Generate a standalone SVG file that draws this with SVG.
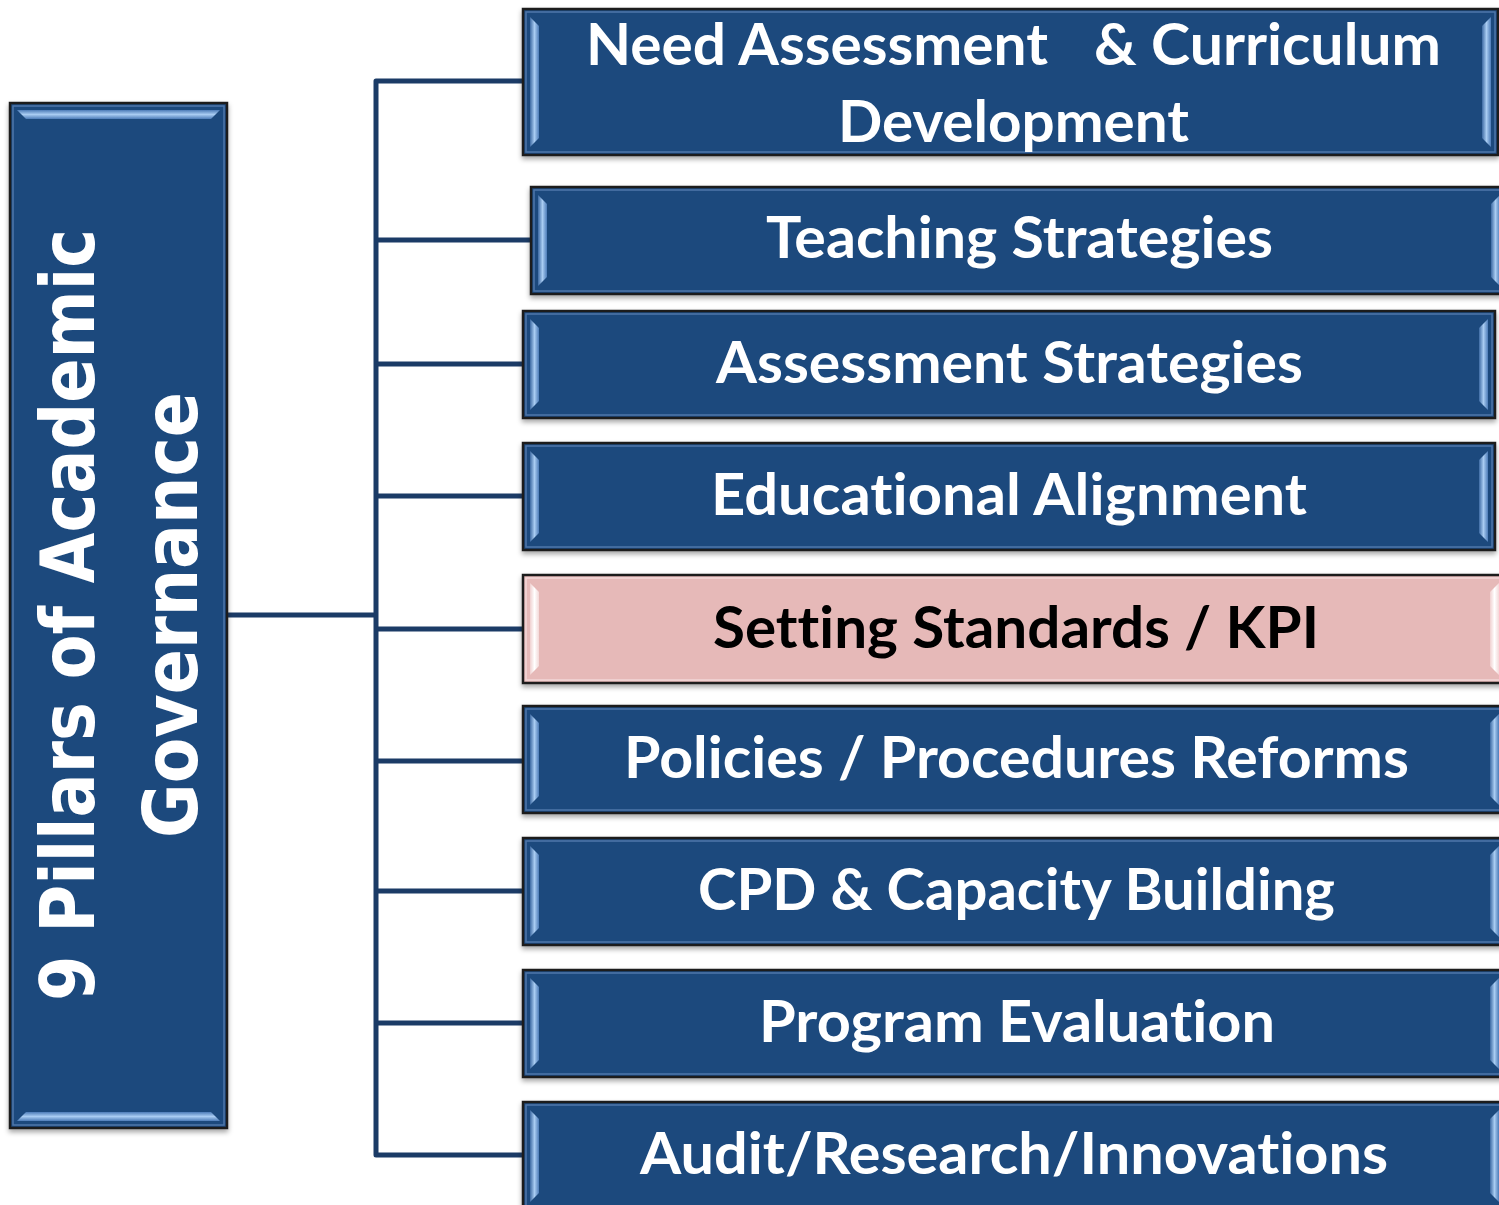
<svg xmlns="http://www.w3.org/2000/svg" width="1499" height="1205" viewBox="0 0 1499 1205">
  <style>
    .box { fill: #1F497D; stroke: #1c1c1c; stroke-width: 2.5; }
    .box.pink { fill: #E6B9B8; }
    .rim { fill: none; stroke: #5b82b5; stroke-width: 1.5; opacity: 0.8; }
    .rim.pink { stroke: #f6dede; }
    .bev { fill: url(#bevV); }
    .bev.pink { fill: url(#bevP); }
    .bevH { fill: url(#bevH); }
    .lbl { font-family: Lato, "Open Sans", "Liberation Sans", sans-serif; font-weight: 700; font-size: 57px; fill: #ffffff; font-variant-ligatures: none; font-feature-settings: "liga" 0, "clig" 0; }
    .lbl.dark { fill: #000000; }
    .title { font-family: "DejaVu Sans", Verdana, sans-serif; font-weight: 700; font-size: 74px; fill: #ffffff; }
    .conn { fill: none; stroke: #1B3B66; stroke-width: 5; stroke-linejoin: round; }
  </style>
  <defs>
    <filter id="shadow" x="-5%" y="-10%" width="110%" height="125%">
      <feDropShadow dx="0" dy="3" stdDeviation="2.5" flood-color="#000" flood-opacity="0.35"/>
    </filter>
    <linearGradient id="bevV" x1="0" y1="0" x2="1" y2="0">
      <stop offset="0" stop-color="#3d6aa3"/>
      <stop offset="0.5" stop-color="#a9ccf2"/>
      <stop offset="1" stop-color="#4d7cb8"/>
    </linearGradient>
    <linearGradient id="bevP" x1="0" y1="0" x2="1" y2="0">
      <stop offset="0" stop-color="#f0d0d0"/>
      <stop offset="0.5" stop-color="#ffffff"/>
      <stop offset="1" stop-color="#f3d8d8"/>
    </linearGradient>
    <linearGradient id="bevH" x1="0" y1="0" x2="0" y2="1">
      <stop offset="0" stop-color="#4d7cb8"/>
      <stop offset="0.5" stop-color="#a9ccf2"/>
      <stop offset="1" stop-color="#4d7cb8"/>
    </linearGradient>
  </defs>

  <rect width="1499" height="1205" fill="#ffffff"/>

  <!-- connectors -->
  <g id="connectors">
    <path class="conn" d="M227,615 H376"/>
    <path class="conn" d="M523,81 H376 V1155 H523"/>
    <path class="conn" d="M376,240 H531"/>
    <path class="conn" d="M376,364 H523"/>
    <path class="conn" d="M376,496 H523"/>
    <path class="conn" d="M376,629 H523"/>
    <path class="conn" d="M376,761 H523"/>
    <path class="conn" d="M376,891 H523"/>
    <path class="conn" d="M376,1023 H523"/>
  </g>

  <!-- root pillar -->
  <g id="root">
    <rect class="box" x="10" y="103" width="217" height="1025" filter="url(#shadow)"/>
    <rect class="rim" x="13" y="106" width="211" height="1019"/>
    <polygon class="bevH" points="17,110 220,110 211,119 26,119"/>
    <polygon class="bevH" points="17,1121 220,1121 211,1112 26,1112"/>
    <text class="title" transform="rotate(-90)" x="-615" y="94" text-anchor="middle" textLength="772" lengthAdjust="spacingAndGlyphs">9 Pillars of Academic</text>
    <text class="title" transform="rotate(-90)" x="-615" y="197" text-anchor="middle" textLength="446" lengthAdjust="spacingAndGlyphs">Governance</text>
  </g>

  <!-- pillar 1 -->
  <g id="p1">
    <rect class="box" x="523" y="9" width="975" height="146" filter="url(#shadow)"/>
    <rect class="rim" x="526" y="12" width="969" height="140"/>
    <polygon class="bev" points="530,17 539,26 539,138 530,147"/>
    <polygon class="bev" points="1491,17 1482,26 1482,138 1491,147"/>
    <text class="lbl" x="586" y="65" textLength="462" lengthAdjust="spacingAndGlyphs">Need Assessment</text>
    <text class="lbl" x="1094" y="65" textLength="347" lengthAdjust="spacingAndGlyphs">&amp; Curriculum</text>
    <text class="lbl" x="838" y="142" textLength="351" lengthAdjust="spacingAndGlyphs">Development</text>
  </g>

  <!-- pillar 2 -->
  <g id="p2">
    <rect class="box" x="531" y="187" width="976" height="107" filter="url(#shadow)"/>
    <rect class="rim" x="534" y="190" width="970" height="101"/>
    <polygon class="bev" points="538,195 547,204 547,277 538,286"/>
    <polygon class="bev" points="1500,195 1491,204 1491,277 1500,286"/>
    <text class="lbl" x="766" y="258" textLength="507" lengthAdjust="spacingAndGlyphs">Teaching Strategies</text>
  </g>

  <!-- pillar 3 -->
  <g id="p3">
    <rect class="box" x="523" y="311" width="972" height="107" filter="url(#shadow)"/>
    <rect class="rim" x="526" y="314" width="966" height="101"/>
    <polygon class="bev" points="530,319 539,328 539,401 530,410"/>
    <polygon class="bev" points="1488,319 1479,328 1479,401 1488,410"/>
    <text class="lbl" x="716" y="383" textLength="587" lengthAdjust="spacingAndGlyphs">Assessment Strategies</text>
  </g>

  <!-- pillar 4 -->
  <g id="p4">
    <rect class="box" x="523" y="443" width="972" height="107" filter="url(#shadow)"/>
    <rect class="rim" x="526" y="446" width="966" height="101"/>
    <polygon class="bev" points="530,451 539,460 539,533 530,542"/>
    <polygon class="bev" points="1488,451 1479,460 1479,533 1488,542"/>
    <text class="lbl" x="711" y="515" textLength="596" lengthAdjust="spacingAndGlyphs">Educational Alignment</text>
  </g>

  <!-- pillar 5 (highlighted) -->
  <g id="p5">
    <rect class="box pink" x="523" y="575" width="983" height="108" filter="url(#shadow)"/>
    <rect class="rim pink" x="526" y="578" width="977" height="102"/>
    <polygon class="bev pink" points="530,583 539,592 539,666 530,675"/>
    <polygon class="bev pink" points="1499,583 1490,592 1490,666 1499,675"/>
    <text class="lbl dark" x="713" y="648" textLength="606" lengthAdjust="spacingAndGlyphs">Setting Standards / KPI</text>
  </g>

  <!-- pillar 6 -->
  <g id="p6">
    <rect class="box" x="523" y="706" width="983" height="107" filter="url(#shadow)"/>
    <rect class="rim" x="526" y="709" width="977" height="101"/>
    <polygon class="bev" points="530,714 539,723 539,796 530,805"/>
    <polygon class="bev" points="1499,714 1490,723 1490,796 1499,805"/>
    <text class="lbl" x="624" y="778" textLength="785" lengthAdjust="spacingAndGlyphs">Policies / Procedures Reforms</text>
  </g>

  <!-- pillar 7 -->
  <g id="p7">
    <rect class="box" x="523" y="838" width="983" height="107" filter="url(#shadow)"/>
    <rect class="rim" x="526" y="841" width="977" height="101"/>
    <polygon class="bev" points="530,846 539,855 539,928 530,937"/>
    <polygon class="bev" points="1499,846 1490,855 1490,928 1499,937"/>
    <text class="lbl" x="698" y="910" textLength="637" lengthAdjust="spacingAndGlyphs">CPD &amp; Capacity Building</text>
  </g>

  <!-- pillar 8 -->
  <g id="p8">
    <rect class="box" x="523" y="970" width="983" height="107" filter="url(#shadow)"/>
    <rect class="rim" x="526" y="973" width="977" height="101"/>
    <polygon class="bev" points="530,978 539,987 539,1060 530,1069"/>
    <polygon class="bev" points="1499,978 1490,987 1490,1060 1499,1069"/>
    <text class="lbl" x="759" y="1042" textLength="516" lengthAdjust="spacingAndGlyphs">Program Evaluation</text>
  </g>

  <!-- pillar 9 -->
  <g id="p9">
    <rect class="box" x="523" y="1102" width="983" height="108" filter="url(#shadow)"/>
    <rect class="rim" x="526" y="1105" width="977" height="102"/>
    <polygon class="bev" points="530,1110 539,1119 539,1193 530,1202"/>
    <polygon class="bev" points="1499,1110 1490,1119 1490,1193 1499,1202"/>
    <text class="lbl" x="640" y="1174" textLength="748" lengthAdjust="spacingAndGlyphs">Audit/Research/Innovations</text>
  </g>
</svg>
